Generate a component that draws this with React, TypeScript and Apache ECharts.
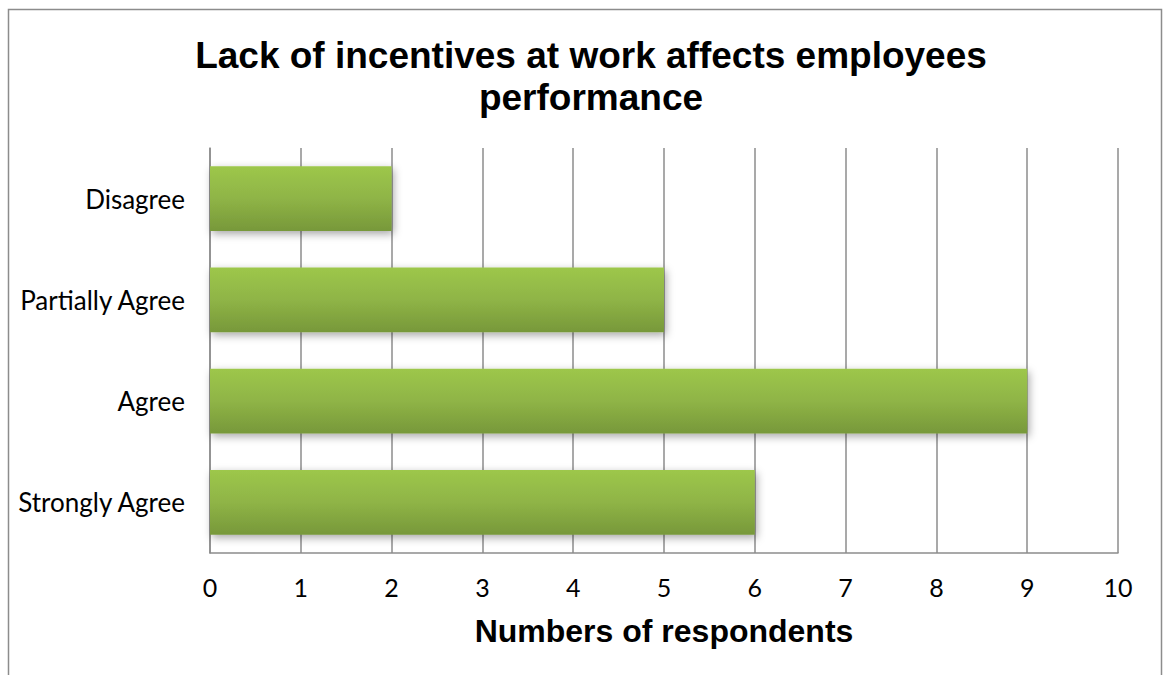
import React, { useEffect, useRef } from "react";
import * as echarts from "echarts";

const categories = ["Strongly Agree", "Agree", "Partially Agree", "Disagree"];
const values = [6, 9, 5, 2];
const xTicks = [0, 1, 2, 3, 4, 5, 6, 7, 8, 9, 10];
const titleText = "Lack of incentives at work affects employees\nperformance";
const xAxisName = "Numbers of respondents";

export default function App() {
  const ref = useRef<HTMLDivElement>(null);
  useEffect(() => {
    const chart = echarts.init(ref.current!, null, { renderer: "svg" });
    chart.setOption({
      animation: false,
      backgroundColor: "#ffffff",
      title: {
        text: titleText,
        left: 586,
        textAlign: "center",
        top: 29,
        textStyle: {
          fontFamily: "Liberation Sans, Arial, sans-serif",
          fontWeight: "bold",
          fontSize: 37,
          lineHeight: 42,
          color: "#000",
        },
      },
      graphic: [
        {
          type: "rect",
          shape: { x: 8.5, y: 9.5, width: 1153, height: 700 },
          style: { fill: "none", stroke: "#8c8c8c", lineWidth: 1.5 },
          silent: true,
        },
      ],
      grid: { left: 210, top: 148, width: 908, height: 405, containLabel: false },
      xAxis: {
        type: "value",
        min: 0,
        max: 10,
        interval: 1,
        name: xAxisName,
        nameLocation: "middle",
        nameGap: 62,
        nameTextStyle: {
          fontFamily: "Liberation Sans, Arial, sans-serif",
          fontWeight: "bold",
          fontSize: 32,
          color: "#000",
        },
        axisLine: { show: true, lineStyle: { color: "#8c8c8c", width: 1.5 } },
        axisTick: { show: false },
        axisLabel: {
          formatter: (v: number) => (xTicks.includes(v) ? String(v) : ""),
          fontFamily: "Lato, 'Open Sans', sans-serif",
          fontSize: 25,
          color: "#000",
          margin: 21,
        },
        splitLine: { show: true, lineStyle: { color: "#8c8c8c", width: 1.5 } },
      },
      yAxis: {
        type: "category",
        data: categories,
        axisLine: { show: true, lineStyle: { color: "#8c8c8c", width: 1.5 } },
        axisTick: { show: false },
        axisLabel: {
          fontFamily: "Lato, 'Open Sans', sans-serif",
          fontSize: 26,
          color: "#000",
          margin: 25,
        },
      },
      series: [
        {
          type: "bar",
          data: values,
          barWidth: "64%",
          itemStyle: {
            color: new echarts.graphic.LinearGradient(0, 0, 0, 1, [
              { offset: 0, color: "#9dc74b" },
              { offset: 0.5, color: "#8fb446" },
              { offset: 1, color: "#77983a" },
            ]),
            shadowColor: "rgba(0,0,0,0.35)",
            shadowBlur: 8,
            shadowOffsetX: 2,
            shadowOffsetY: 3,
          },
        },
      ],
    });
    return () => chart.dispose();
  }, []);
  return (
    <div
      ref={ref}
      style={{ position: "absolute", left: 0, top: 0, width: 1164, height: 675 }}
    />
  );
}
